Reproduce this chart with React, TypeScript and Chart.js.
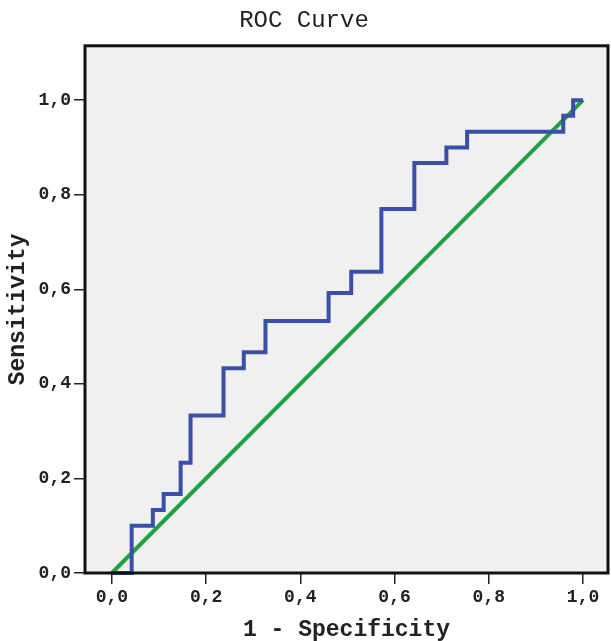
import React, { useEffect, useRef } from "react";
import { Chart, registerables } from "chart.js";

Chart.register(...registerables);

// ROC operating points (1 - specificity, sensitivity)
const fprValues = [0, 0.042, 0.087, 0.11, 0.146, 0.167, 0.237, 0.28, 0.326, 0.46, 0.508, 0.572, 0.642, 0.71, 0.754, 0.958, 0.979, 1.0];
const tprValues = [0, 0.1, 0.133, 0.167, 0.233, 0.333, 0.433, 0.467, 0.533, 0.592, 0.637, 0.77, 0.867, 0.9, 0.933, 0.967, 1.0, 1.0];
const refX = [0, 1];
const refY = [0, 1];
const tickValues = [0, 0.2, 0.4, 0.6, 0.8, 1.0];

const MONO = "'Liberation Mono', 'Courier New', monospace";

const panelPlugin = {
  id: "panel",
  beforeDraw(chart: any) {
    const { ctx, chartArea: a } = chart;
    ctx.save();
    ctx.fillStyle = "#f0f0f0";
    ctx.fillRect(a.left, a.top, a.right - a.left, a.bottom - a.top);
    ctx.restore();
  },
  afterDatasetsDraw(chart: any) {
    const { ctx, chartArea: a } = chart;
    ctx.save();
    ctx.strokeStyle = "#111";
    ctx.lineWidth = 3;
    ctx.strokeRect(a.left, a.top, a.right - a.left, a.bottom - a.top);
    ctx.restore();
  },
};

export default function App() {
  const ref = useRef<HTMLCanvasElement>(null);
  useEffect(() => {
    document.body.style.margin = "0";
    const chart = new Chart(ref.current!, {
      type: "line",
      data: {
        datasets: [
          {
            label: "ROC",
            data: fprValues.map((x, i) => ({ x, y: tprValues[i] })),
            borderColor: "#3a4fa6",
            borderWidth: 4,
            stepped: "before",
            pointRadius: 0,
            fill: false,
            clip: 4,
          },
          {
            label: "Reference",
            data: refX.map((x, i) => ({ x, y: refY[i] })),
            borderColor: "#23a043",
            borderWidth: 4,
            pointRadius: 0,
            fill: false,
            clip: 4,
          },
        ],
      },
      options: {
        animation: false,
        responsive: false,
        layout: { padding: { top: 0, right: 3, bottom: 0, left: 0 } },
        plugins: {
          legend: { display: false },
          tooltip: { enabled: false },
          title: {
            display: true,
            text: "ROC Curve",
            color: "#222",
            font: { family: MONO, size: 24, weight: "normal" },
            padding: { top: 6, bottom: 11 },
          },
        },
        scales: {
          x: {
            type: "linear",
            min: -0.057,
            max: 1.053,
            afterBuildTicks: (s: any) => {
              s.ticks = tickValues.map((v) => ({ value: v }));
            },
            ticks: {
              includeBounds: false,
              color: "#222",
              font: { family: MONO, size: 18, weight: "bold" },
              callback: (v: any) => Number(v).toFixed(1).replace(".", ","),
              padding: 3,
              maxRotation: 0,
            },
            grid: { drawOnChartArea: false, tickLength: 11, color: "#222", lineWidth: 1.5 },
            border: { display: false },
            title: {
              display: true,
              text: "1 - Specificity",
              color: "#222",
              font: { family: MONO, size: 23, weight: "bold" },
              padding: { top: 0, bottom: -3 },
            },
            afterFit: (s: any) => {
              s.height = 68;
            },
          },
          y: {
            type: "linear",
            min: 0,
            max: 1.115,
            afterBuildTicks: (s: any) => {
              s.ticks = tickValues.map((v) => ({ value: v }));
            },
            ticks: {
              includeBounds: false,
              color: "#222",
              font: { family: MONO, size: 18, weight: "bold" },
              callback: (v: any) => Number(v).toFixed(1).replace(".", ","),
              padding: 3,
            },
            grid: { drawOnChartArea: false, tickLength: 11, color: "#222", lineWidth: 1.5 },
            border: { display: false },
            title: {
              display: true,
              text: "Sensitivity",
              color: "#222",
              font: { family: MONO, size: 23, weight: "bold" },
              padding: { top: 4, bottom: 0 },
            },
            afterFit: (s: any) => {
              s.width = 85;
            },
          },
        },
      },
      plugins: [panelPlugin],
    });
    return () => chart.destroy();
  }, []);
  return (
    <div style={{ position: "absolute", left: 0, top: 0, width: 611, height: 641, background: "#fff" }}>
      <canvas ref={ref} width={611} height={641} style={{ width: 611, height: 641 }} />
    </div>
  );
}
